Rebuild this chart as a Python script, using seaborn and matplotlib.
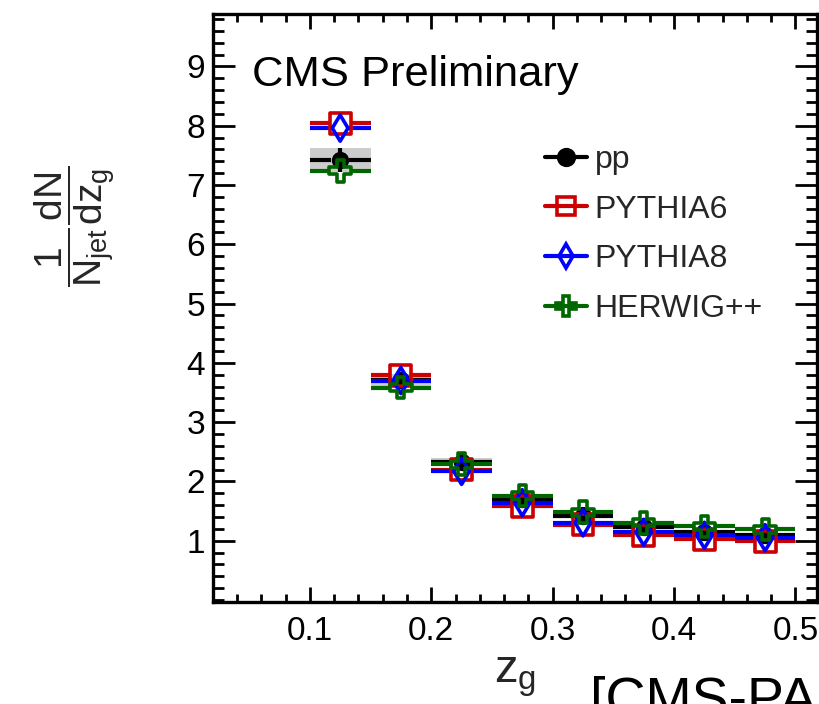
import matplotlib
matplotlib.use("Agg")
import matplotlib.pyplot as plt
from matplotlib.lines import Line2D
from matplotlib.ticker import MultipleLocator, FixedLocator
import numpy as np
import pandas as pd
import seaborn as sns

# z_g bin edges
bin_lo = [0.10, 0.15, 0.20, 0.25, 0.30, 0.35, 0.40, 0.45]
bin_hi = [0.15, 0.20, 0.25, 0.30, 0.35, 0.40, 0.45, 0.50]

# normalised distributions (1/N_jet dN/dz_g)
pp = [7.42, 3.71, 2.33, 1.70, 1.42, 1.23, 1.15, 1.09]
pp_stat = [0.20, 0.12, 0.12, 0.15, 0.15, 0.15, 0.15, 0.15]
pp_sys = [0.20, 0.10, 0.07, 0.04, 0.03, 0.03, 0.03, 0.03]
pythia6 = [8.04, 3.79, 2.20, 1.58, 1.27, 1.09, 1.02, 0.99]
pythia8 = [7.96, 3.70, 2.17, 1.64, 1.30, 1.14, 1.09, 1.05]
herwig = [7.24, 3.58, 2.29, 1.76, 1.48, 1.30, 1.24, 1.19]

series_names = ["pp", "PYTHIA6", "PYTHIA8", "HERWIG++"]
series_values = [pp, pythia6, pythia8, herwig]

colors = {"pp": "black", "PYTHIA6": "#cc0000", "PYTHIA8": "#0000ff", "HERWIG++": "#006600"}
markers = {"pp": "o", "PYTHIA6": "s", "PYTHIA8": "d", "HERWIG++": "P"}
msizes = {"pp": 12.5, "PYTHIA6": 15.0, "PYTHIA8": 13.3, "HERWIG++": 15.5}

centers = [(a + b) / 2 for a, b in zip(bin_lo, bin_hi)]
frames = []
for name, vals in zip(series_names, series_values):
    frames.append(pd.DataFrame({"zg": centers, "lo": bin_lo, "hi": bin_hi,
                                "value": vals, "sample": name}))
df = pd.concat(frames, ignore_index=True)

sns.set_theme(style="ticks")
plt.rcParams["font.family"] = ["Liberation Sans", "DejaVu Sans"]
plt.rcParams["mathtext.fontset"] = "custom"
plt.rcParams["mathtext.rm"] = "Liberation Sans"
plt.rcParams["mathtext.it"] = "Liberation Sans"
plt.rcParams["mathtext.sf"] = "Liberation Sans"
plt.rcParams["mathtext.bf"] = "Liberation Sans:bold"

fig = plt.figure(figsize=(8.2, 7.04), dpi=100)
ax = fig.add_axes([0.2601, 0.1453, 0.7359, 0.8344])
ax.set_xlim(0.0205, 0.5175)
ax.set_ylim(-0.03, 9.88)

# data-units per pixel along x, used to leave a gap for hollow markers
px_per_x = (ax.transData.transform((1, 0)) - ax.transData.transform((0, 0)))[0]

def half_gap(ms):
    return ms * fig.dpi / 72.0 / 2.0 / px_per_x

# systematic band for pp
ax.bar(centers, [2 * s for s in pp_sys], bottom=[v - s for v, s in zip(pp, pp_sys)],
       width=[h - l for l, h in zip(bin_lo, bin_hi)], color="#cccccc", linewidth=0, zorder=1)

lw = 3.0
for name in series_names:
    sub = df[df["sample"] == name]
    g = half_gap(msizes[name] if name != "PYTHIA8" else 11.0)
    ax.hlines(sub["value"], sub["lo"], sub["zg"] - g, color=colors[name], lw=lw, zorder=2)
    ax.hlines(sub["value"], sub["zg"] + g, sub["hi"], color=colors[name], lw=lw, zorder=2)

sub = df[df["sample"] == "pp"]
ax.vlines(sub["zg"], sub["value"] - np.array(pp_stat), sub["value"] + np.array(pp_stat),
          color="black", lw=lw, zorder=3)

for i, name in enumerate(series_names):
    sub = df[df["sample"] == name]
    if name == "pp":
        sns.scatterplot(data=sub, x="zg", y="value", ax=ax, marker="o",
                        s=msizes[name] ** 2, facecolor="black", edgecolor="black",
                        linewidth=0, zorder=4 + i, legend=False)
    else:
        sns.scatterplot(data=sub, x="zg", y="value", ax=ax, marker=markers[name],
                        s=msizes[name] ** 2, facecolor="none", edgecolor=colors[name],
                        linewidth=2.6, zorder=4 + i, legend=False)

ax.set_xlim(0.0205, 0.5175)
ax.set_ylim(-0.03, 9.88)

# ROOT-like frame with inward ticks on all sides
for sp in ax.spines.values():
    sp.set_visible(True)
    sp.set_linewidth(2.4)
    sp.set_color("black")
ax.xaxis.set_major_locator(FixedLocator([0.1, 0.2, 0.3, 0.4, 0.5]))
ax.xaxis.set_minor_locator(MultipleLocator(0.02))
ax.yaxis.set_major_locator(FixedLocator([1, 2, 3, 4, 5, 6, 7, 8, 9]))
ax.yaxis.set_minor_locator(MultipleLocator(0.2))
ax.tick_params(axis="both", which="both", direction="in", top=True, right=True,
               width=2.0, color="black", labelcolor="black")
ax.tick_params(axis="x", which="major", length=11, pad=10, labelsize=24)
ax.tick_params(axis="x", which="minor", length=6)
ax.tick_params(axis="y", which="major", length=16, pad=6, labelsize=24)
ax.tick_params(axis="y", which="minor", length=8)
ax.set_xticklabels(["0.1", "0.2", "0.3", "0.4", "0.5"])

ax.set_xlabel(r"$z_{g}$", fontsize=34, labelpad=6)
ax.set_ylabel(r"$\dfrac{1}{N_{jet}}\dfrac{dN}{dz_{g}}$", fontsize=28)
ax.yaxis.set_label_coords(-0.16, 0.64)

ax.text(0.064, 0.878, "CMS Preliminary", transform=ax.transAxes, fontsize=31.3,
        ha="left", va="baseline", color="black")

handles = []
for name in series_names:
    handles.append(Line2D([], [], color=colors[name], lw=lw, marker=markers[name],
                          markersize=msizes[name] * 0.9,
                          markerfacecolor=("black" if name == "pp" else "none"),
                          markeredgecolor=colors[name], markeredgewidth=2.6))
ax.legend(handles, series_names, loc="upper left", bbox_to_anchor=(0.55, 0.778),
          frameon=False, fontsize=23, handlelength=1.3, handletextpad=0.25,
          labelspacing=0.62, borderpad=0, borderaxespad=0)

fig.text(590 / 820, 1 - 716 / 704, "[CMS-PAS HIN-16-006]", fontsize=40,
         ha="left", va="baseline", color="black")

fig.savefig("out.png", dpi=100)
